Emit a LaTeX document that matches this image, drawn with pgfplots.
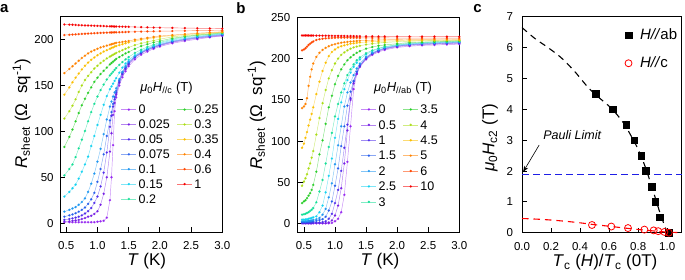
\documentclass[border=0pt]{standalone}
\usepackage{fontspec}
\setmainfont{Liberation Sans}
\usepackage{pgfplots}
\pgfplotsset{compat=1.18}
\usepackage{pgfplotstable}
\usetikzlibrary{arrows.meta}

\definecolor{k0}{RGB}{150,40,240}
\definecolor{k1}{RGB}{118,30,228}
\definecolor{k2}{RGB}{80,45,235}
\definecolor{k3}{RGB}{40,95,235}
\definecolor{k4}{RGB}{30,150,240}
\definecolor{k5}{RGB}{20,210,240}
\definecolor{k6}{RGB}{20,222,150}
\definecolor{k7}{RGB}{40,205,40}
\definecolor{k8}{RGB}{170,220,20}
\definecolor{k9}{RGB}{250,190,0}
\definecolor{k10}{RGB}{255,130,0}
\definecolor{k11}{RGB}{255,70,0}
\definecolor{k12}{RGB}{245,0,0}
\definecolor{pauli}{RGB}{30,30,230}

\pgfplotstableread{
T r0 r1 r2 r3 r4 r5 r6 r7 r8 r9 r10 r11 r12
0.47 1 1.5 3.5 7 12.5 29 52 83 114 140 163.5 205 216.5
0.55 1 2 4.5 8.5 14.5 34 59 94 122 148 168 205.3 216.3
0.6 1 2.5 5.2 9.5 16 38 64 102 128 153.5 171 205.5 216.2
0.65 1 3 6 10.8 17.5 42 72 111 135 158.5 174 205.8 216
0.7 1 3.5 7 12.5 20 48.5 81.5 120 143 163 177 206 215.8
0.75 1 4.5 8.5 14.5 23 56 91 128.5 150 167.5 180 206.2 215.7
0.8 1 5.5 10.5 17 27 64 100.5 135.5 156 171.5 182.5 206.4 215.5
0.85 1 7 13 21 34 72.5 111 142 160.5 175 185 206.6 215.4
0.9 1 8 16.5 26 43 84 121 148 164.5 178 187 206.8 215.3
0.95 1 10 22 33 54 95 130 154 168.5 180.5 188.5 207 215.1
1.0 1.5 13 29 45 67 107 138 158.5 171.5 183 190 207.2 215
1.05 2 20 40 59 81 118 145 162.5 174.5 185 191.5 207.3 214.9
1.1 2.5 32 55 75 97 129 151 166 177 187 192.5 207.5 214.8
1.15 6 50 77 95 113 138.5 156.5 169.5 179.5 188.5 193.5 207.6 214.6
1.2 25 78 105 112 127 146 161 173 181.5 190 194.5 207.8 214.5
1.225 50 98 117 121 132.5 149 163 174.5 182.5 191 195 207.8 214.5
1.25 85 118 127 130 138 152 165 176 183.5 191.5 195.5 207.9 214.4
1.275 122 131 135 137.5 142.5 155 167 177.5 184.5 192.5 196 208 214.3
1.3 137 140 142 144 147 158 169 179 185.5 193 196.5 208 214.3
1.35 150 153 154 155.5 157 164 172.5 181 187 194 197 208.1 214.2
1.4 159 162 163 164 165 169.5 175.5 183 188.5 195 197.5 208.2 214.1
1.45 165.5 168 169 170 171 174 178.5 185 190 196 198 208.3 214
1.5 171 173 174 175 176 178 181 186.5 191.5 197 198.5 208.4 214
1.6 178.5 180.5 181 181.5 182 183 185.5 190 194 198.5 200 208.6 213.8
1.7 183.5 185 185.5 186 186.5 187.5 189 193 196 200 201 208.8 213.6
1.8 187 188.5 189 189.5 190 190.5 192 195 197.5 201 202 209 213.4
1.9 190 191 191.5 192 192.5 193.5 194.5 197 199 202 203 209.1 213.2
2.0 192.5 193.5 194 194.5 195 196 197 198.5 200.5 203 204 209.2 213
2.2 196 197 197.5 198 198.5 199.5 200.5 201.5 203 204.5 205 209.4 212.8
2.4 198.5 199.5 200 200.5 201 202 203 203.5 204.5 205.5 206 209.6 212.6
2.6 200.5 201.5 202 202.5 203 203.5 204.5 205 205.5 206.5 207 209.8 212.4
2.8 202.5 203 203.5 204 204.5 205 205.5 206 206.5 207.2 207.8 209.9 212.2
3.0 204 204.5 205 205.5 206 206.5 207 207.5 208 208.3 208.6 210 212
}\dataA

\pgfplotstableread{
T b0 b1 b2 b3 b4 b5 b6 b7 b8 b9 b10 b11 b12
0.47 0.5 0.8 1 2 3 5 11 25 46 92 140 210 228
0.5 0.5 0.8 1 2 3 5 11.5 27 51 97 142 211 228
0.525 0.5 0.8 1 2 3 5.2 12 28.5 55 104 145 212.5 228
0.55 0.5 0.8 1 2 3.2 5.5 13 31 60 111 152 214.5 228
0.575 0.5 0.8 1 2.2 3.5 6 14 34 67 119 167 216.5 228
0.6 0.5 0.8 1 2.5 3.8 6.5 15.5 37 73 126 178 218 227.9
0.625 0.5 0.8 1.1 2.7 4 7 17 41 80 133 187 219.5 227.9
0.65 0.5 0.8 1.2 3 4.5 7.8 19 47 88 141 194 220.8 227.9
0.7 0.5 0.8 1.3 3.5 5.5 9 26 63 108 157 202 222.5 227.8
0.75 0.5 0.8 1.5 4.5 7 14 39 84 128 172 207 223.5 227.8
0.8 0.5 0.8 2 5.5 11 22 53 101 146 185 210.5 224 227.7
0.85 0.5 0.8 3 8.5 18 38 73 121 162 195 213 224.5 227.7
0.9 0.5 1.5 6 16 32 58 93 141 176 203 215 224.8 227.6
0.95 1 4 12 27 49 79 110 155 186 208 216.5 225 227.6
1.0 3 10 25 46 72 104 130 169 194 211 217.5 225.2 227.5
1.05 6 22 41 67 95 127 145 179 200 213.5 218.5 225.3 227.5
1.1 14 43 64 94 118 147 159 187 204.5 215 219.2 225.3 227.4
1.15 35 73 92 118 142 163 170 193 207.5 216 219.8 225.3 227.4
1.2 75 113 120 143 159 174 180 198 210 217 220.2 225.3 227.3
1.25 118 150 152 160 171 183 187 201.5 212 218 220.6 225.2 227.3
1.3 163 170 172 173 180 190 193 204.5 213.5 218.5 221 225.2 227.2
1.35 181 182 184 184 188 195 198 207 214.5 219 221.3 225.2 227.2
1.4 190 190.5 191.5 192 194 199 201.5 209 215.5 219.5 221.6 225.1 227.1
1.5 199 200 200.5 201 202 205 206.5 212 217 220 222 225.1 227
1.6 204.5 205.5 205.8 206.5 207 209 210 214 218 220.5 222.3 225 227
1.7 208 209 209.5 210 210.5 212 212.5 215.5 219 221 222.6 225 226.9
1.8 210.5 211.5 212 212.5 213 214 214.5 216.5 219.5 221.3 222.8 225 226.9
2.0 213.5 214.5 215 215.5 216 216.5 217 218 220.5 221.7 223 224.9 226.8
2.2 215 216 216.5 217 217.5 218 218.5 219.5 221 222 223.2 224.9 226.8
2.4 216 217 217.5 218 218.5 219 219.5 220 221.5 222.2 223.3 224.9 226.7
2.6 216.5 217.5 218 218.5 219 219.5 220 220.5 221.8 222.4 223.4 224.8 226.7
2.8 217 218 218.5 219 219.5 220 220.5 221 222 222.5 223.5 224.8 226.6
3.0 217.5 218.5 219 219.5 220 220.5 221 221.5 222 222.6 223.5 224.8 226.5
}\dataB

\tikzset{dat/.style={mark=*, mark size=1.05pt, line width=0.45pt, draw opacity=0.55, mark options={draw=none, fill opacity=1}}}

\pgfplotsset{
  panel/.style={
    scale only axis,
    axis line style={line width=0.8pt},
    major tick style={line width=0.8pt, black},
    major tick length=5pt,
    tick align=inside,
    xtick pos=bottom, ytick pos=left,
    /pgf/number format/assume math mode=true,
    tick label style={font=\fontsize{11.5}{13}\selectfont},
    label style={font=\fontsize{17}{20}\selectfont},
  },
  rtleg/.style={
    legend image code/.code={\draw[mark repeat=2,mark phase=2,##1] plot coordinates {(0pt,0pt) (7.5pt,0pt) (15pt,0pt)};},
    legend style={draw=none, fill=none, legend columns=2, legend cell align=left,
      font=\fontsize{12.5}{14}\selectfont,
      /tikz/every even column/.append style={column sep=5pt},
      nodes={inner xsep=2pt, inner ysep=2.75pt, text height=9pt, text depth=0.4pt}},
  },
}

\begin{document}
\begin{tikzpicture}
\path[use as bounding box] (0pt,0pt) rectangle (685pt,279pt);

% ---------------- panel a ----------------
\begin{axis}[panel, rtleg,
  at={(60pt,46.7pt)}, anchor=south west, width=162.3pt, height=215.6pt,
  xmin=0.4, xmax=3.0, ymin=-10, ymax=225,
  xtick={0.5,1.0,1.5,2.0,2.5,3.0}, ytick={0,50,100,150,200},
  xticklabel style={/pgf/number format/fixed, /pgf/number format/fixed zerofill, /pgf/number format/precision=1, yshift=-6pt},
  yticklabel style={xshift=-2.9pt},
  xlabel={\textit{T} (K)},
  ylabel={\textit{R}\textsubscript{sheet} (Ω\ \ sq\textsuperscript{-1})},
  xlabel style={at={(axis description cs:0.534,-0.133)}, anchor=center},
  ylabel style={at={(axis description cs:-0.236,0.55)}, anchor=center},
  legend style={at={(0.357,0.614)}, anchor=north west},
]
\addplot[k0, dat, forget plot] table[x=T,y=r0]{\dataA};
\addplot[k1, dat, forget plot] table[x=T,y=r1]{\dataA};
\addplot[k2, dat, forget plot] table[x=T,y=r2]{\dataA};
\addplot[k3, dat, forget plot] table[x=T,y=r3]{\dataA};
\addplot[k4, dat, forget plot] table[x=T,y=r4]{\dataA};
\addplot[k5, dat, forget plot] table[x=T,y=r5]{\dataA};
\addplot[k6, dat, forget plot] table[x=T,y=r6]{\dataA};
\addplot[k7, dat, forget plot] table[x=T,y=r7]{\dataA};
\addplot[k8, dat, forget plot] table[x=T,y=r8]{\dataA};
\addplot[k9, dat, forget plot] table[x=T,y=r9]{\dataA};
\addplot[k10, dat, forget plot] table[x=T,y=r10]{\dataA};
\addplot[k11, dat, forget plot] table[x=T,y=r11]{\dataA};
\addplot[k12, dat, forget plot] table[x=T,y=r12]{\dataA};
\addlegendimage{k0, dat}\addlegendentry{0}
\addlegendimage{k7, dat}\addlegendentry{0.25}
\addlegendimage{k1, dat}\addlegendentry{0.025}
\addlegendimage{k8, dat}\addlegendentry{0.3}
\addlegendimage{k2, dat}\addlegendentry{0.05}
\addlegendimage{k9, dat}\addlegendentry{0.35}
\addlegendimage{k3, dat}\addlegendentry{0.075}
\addlegendimage{k10, dat}\addlegendentry{0.4}
\addlegendimage{k4, dat}\addlegendentry{0.1}
\addlegendimage{k11, dat}\addlegendentry{0.6}
\addlegendimage{k5, dat}\addlegendentry{0.15}
\addlegendimage{k12, dat}\addlegendentry{1}
\addlegendimage{k6, dat}\addlegendentry{0.2}
\node[font=\fontsize{13}{15}\selectfont] at (rel axis cs:0.656,0.670) {\textit{μ}\textsubscript{0}\textit{H}\textsubscript{//c} (T)};
\end{axis}

% ---------------- panel b ----------------
\begin{axis}[panel, rtleg,
  at={(297.7pt,47pt)}, anchor=south west, width=161.6pt, height=214.7pt,
  xmin=0.4, xmax=3.0, ymin=-10, ymax=250,
  xtick={0.5,1.0,1.5,2.0,2.5,3.0}, ytick={0,50,100,150,200,250},
  xticklabel style={/pgf/number format/fixed, /pgf/number format/fixed zerofill, /pgf/number format/precision=1, yshift=-6pt},
  yticklabel style={xshift=-3.9pt},
  xlabel={\textit{T} (K)},
  ylabel={\textit{R}\textsubscript{sheet} (Ω\ \ sq\textsuperscript{-1})},
  xlabel style={at={(axis description cs:0.509,-0.135)}, anchor=center},
  ylabel style={at={(axis description cs:-0.254,0.545)}, anchor=center},
  legend style={at={(0.373,0.617)}, anchor=north west, nodes={inner ysep=3pt}},
]
\addplot[k0, dat, forget plot] table[x=T,y=b0]{\dataB};
\addplot[k1, dat, forget plot] table[x=T,y=b1]{\dataB};
\addplot[k2, dat, forget plot] table[x=T,y=b2]{\dataB};
\addplot[k3, dat, forget plot] table[x=T,y=b3]{\dataB};
\addplot[k4, dat, forget plot] table[x=T,y=b4]{\dataB};
\addplot[k5, dat, forget plot] table[x=T,y=b5]{\dataB};
\addplot[k6, dat, forget plot] table[x=T,y=b6]{\dataB};
\addplot[k7, dat, forget plot] table[x=T,y=b7]{\dataB};
\addplot[k8, dat, forget plot] table[x=T,y=b8]{\dataB};
\addplot[k9, dat, forget plot] table[x=T,y=b9]{\dataB};
\addplot[k10, dat, forget plot] table[x=T,y=b10]{\dataB};
\addplot[k11, dat, forget plot] table[x=T,y=b11]{\dataB};
\addplot[k12, dat, forget plot] table[x=T,y=b12]{\dataB};
\addlegendimage{k0, dat}\addlegendentry{0}
\addlegendimage{k7, dat}\addlegendentry{3.5}
\addlegendimage{k1, dat}\addlegendentry{0.5}
\addlegendimage{k8, dat}\addlegendentry{4}
\addlegendimage{k2, dat}\addlegendentry{1}
\addlegendimage{k9, dat}\addlegendentry{4.5}
\addlegendimage{k3, dat}\addlegendentry{1.5}
\addlegendimage{k10, dat}\addlegendentry{5}
\addlegendimage{k4, dat}\addlegendentry{2}
\addlegendimage{k11, dat}\addlegendentry{6}
\addlegendimage{k5, dat}\addlegendentry{2.5}
\addlegendimage{k12, dat}\addlegendentry{10}
\addlegendimage{k6, dat}\addlegendentry{3}
\node[font=\fontsize{13}{15}\selectfont] at (rel axis cs:0.652,0.671) {\textit{μ}\textsubscript{0}\textit{H}\textsubscript{//ab} (T)};
\end{axis}

% ---------------- panel c ----------------
\begin{axis}[panel,
  at={(522pt,46.3pt)}, anchor=south west, width=159.7pt, height=216pt,
  xmin=0, xmax=1.1, ymin=0, ymax=7, clip=false,
  xtick={0,0.2,0.4,0.6,0.8,1.0}, ytick={0,1,2,3,4,5,6,7},
  xticklabel style={/pgf/number format/fixed, /pgf/number format/fixed zerofill, /pgf/number format/precision=1, yshift=-6pt},
  yticklabel style={xshift=-5.5pt},
  xlabel={\textit{T}\textsubscript{c} (\textit{H})/\textit{T}\textsubscript{c} (0T)},
  ylabel={\textit{μ}\textsubscript{0}\textit{H}\textsubscript{c2} (T)},
  xlabel style={at={(axis description cs:0.52,-0.136)}, anchor=center},
  ylabel style={at={(axis description cs:-0.2,0.44)}, anchor=center},
  legend style={at={(0.625,0.966)}, anchor=north west, draw=none, fill=none, legend cell align=left,
    font=\fontsize{15}{17}\selectfont, row sep=10pt,
    /tikz/every odd column/.append style={column sep=6pt},
    nodes={inner xsep=2pt, inner ysep=2pt, text height=11pt, text depth=3pt}},
]
\addplot[forget plot, pauli, line width=1.2pt, dash pattern=on 6.5pt off 4.5pt] coordinates {(0,1.88) (1.1,1.88)};
\addplot[forget plot, black, line width=1.1pt, dash pattern=on 6.5pt off 5pt, smooth] coordinates {
(0,6.65) (0.087,6.3) (0.179,6.0) (0.27,5.67) (0.362,5.23) (0.44,4.79) (0.5,4.5) (0.6,4.1) (0.65,3.85) (0.7,3.55) (0.75,3.15) (0.8,2.7) (0.85,2.12) (0.9,1.4) (0.95,0.65) (1.0,0)};
\addplot[forget plot, red, line width=1.1pt, dash pattern=on 6.5pt off 5pt, smooth] coordinates {
(0,0.46) (0.1,0.44) (0.2,0.41) (0.3,0.37) (0.4,0.32) (0.5,0.26) (0.6,0.21) (0.7,0.155) (0.8,0.105) (0.9,0.06) (1.0,0.02) (1.1,0.0)};
\addplot[only marks, mark=square*, mark size=3.3pt, black] coordinates {
(0.509,4.5) (0.624,4.0) (0.719,3.5) (0.774,3.0) (0.82,2.5) (0.852,2.0) (0.894,1.5) (0.917,1.0) (0.949,0.5) (1.011,0)};
\addlegendentry{\textit{H//}ab}
\addplot[only marks, mark=o, mark size=3.5pt, red, mark options={line width=0.8pt}] coordinates {
(0.482,0.25) (0.615,0.2) (0.73,0.15) (0.843,0.1) (0.907,0.075) (0.938,0.05) (0.981,0.025) (1.011,0)};
\addlegendentry{\textit{H//}c}
\node[font=\fontsize{12.5}{14}\selectfont\itshape] at (axis cs:0.346,3.17) {Pauli Limit};
\draw[-{Stealth[length=6pt,width=4.5pt]}, line width=0.6pt] (axis cs:0.118,2.84) -- (axis cs:0.008,1.97);
\end{axis}

\node[font=\bfseries\fontsize{15}{15}\selectfont] at (4.3pt,270.5pt) {a};
\node[font=\bfseries\fontsize{15}{15}\selectfont] at (241pt,270.5pt) {b};
\node[font=\bfseries\fontsize{15}{15}\selectfont] at (477.5pt,270.5pt) {c};
\end{tikzpicture}
\end{document}
